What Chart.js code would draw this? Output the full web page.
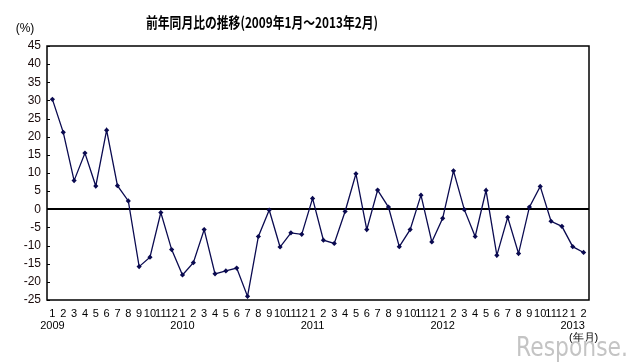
<!DOCTYPE html>
<html><head><meta charset="utf-8">
<script src="https://cdn.jsdelivr.net/npm/chart.js@4"></script>
<style>html,body{margin:0;padding:0;background:#fff;}#wrap{width:640px;height:363px;position:relative;}</style>
</head><body><div id="wrap"><canvas id="c" width="640" height="363"></canvas></div>
<script>
const titleText = '前年同月比の推移(2009年1月～2013年2月)';
const months = [1,2,3,4,5,6,7,8,9,10,11,12,1,2,3,4,5,6,7,8,9,10,11,12,1,2,3,4,5,6,7,8,9,10,11,12,1,2,3,4,5,6,7,8,9,10,11,12,1,2];
const years = {0:'2009',12:'2010',24:'2011',36:'2012',48:'2013'};
const values = [30.3,21.2,7.9,15.5,6.4,21.8,6.5,2.3,-15.8,-13.2,-0.9,-11.1,
  -18.1,-14.7,-5.6,-17.8,-17.0,-16.2,-24.0,-7.5,-0.2,-10.4,-6.5,-6.9,
  3.0,-8.5,-9.4,-0.6,9.8,-5.6,5.3,0.6,-10.3,-5.6,3.9,-9.0,
  -2.5,10.6,-0.1,-7.5,5.2,-12.7,-2.2,-12.2,0.6,6.3,-3.3,-4.7,
  -10.3,-11.9];
const yTicks = [45,40,35,30,25,20,15,10,5,0,-5,-10,-15,-20,-25];

const labels = months.map((m,i)=>{
  const l=[String(m)];
  if (years[i]) l.push(years[i]);
  if (i===months.length-1){ l.push(''); l.push('(年月)'); }
  return l;
});

const deco = {
  id:'deco',
  afterDraw(chart){
    const ctx=chart.ctx, a=chart.chartArea, y=chart.scales.y;
    ctx.save();
    ctx.strokeStyle='#000'; ctx.lineWidth=1.5;
    ctx.strokeRect(a.left,a.top,a.right-a.left,a.bottom-a.top);
    ctx.lineWidth=1;
    yTicks.forEach(v=>{const p=Math.round(y.getPixelForValue(v))+0.5;ctx.beginPath();ctx.moveTo(a.left,p);ctx.lineTo(a.left+3,p);ctx.stroke();});
    ctx.fillStyle='#000';
    ctx.font='bold 15px "Noto Sans CJK JP"';
    ctx.textAlign='center'; ctx.textBaseline='middle';
    ctx.fillText(titleText,262,22,232);
    ctx.font='12px "Liberation Sans"';
    ctx.fillText('(%)',25,29);
    ctx.fillStyle='#c4c4c4';
    ctx.font='26px "DejaVu Sans"';
    ctx.textAlign='left';
    ctx.fillText('Response.',516,349,112);
    ctx.restore();
  }
};

new Chart(document.getElementById('c'),{
  type:'line',
  data:{labels:labels,datasets:[{data:values,borderColor:'#0a0a50',borderWidth:1.3,
    pointStyle:'rectRot',pointRadius:2.6,pointBackgroundColor:'#0a0a50',pointBorderColor:'#0a0a50',pointBorderWidth:0,tension:0}]},
  options:{responsive:false,animation:false,
    layout:{padding:{top:46,right:51,left:0,bottom:0}},
    plugins:{legend:{display:false},tooltip:{enabled:false}},
    scales:{
      x:{offset:true,grid:{display:false,drawTicks:false},border:{display:false},
        ticks:{autoSkip:false,maxRotation:0,minRotation:0,padding:8,color:'#000',font:{family:'Liberation Sans',size:11,lineHeight:1.1}},
        afterFit(s){s.height=63;}},
      y:{min:-25,max:45,afterBuildTicks(s){s.ticks=yTicks.map(v=>({value:v}));},
        grid:{drawTicks:false,color:(c)=>c.tick&&c.tick.value===0?'#000':'rgba(0,0,0,0)',lineWidth:(c)=>c.tick&&c.tick.value===0?2:0},
        border:{display:false},
        ticks:{padding:6,color:'#1a0a0a',font:{family:'Liberation Sans',size:12}},
        afterFit(s){s.width=47;}}
    }
  },
  plugins:[deco]
});
</script></body></html>
